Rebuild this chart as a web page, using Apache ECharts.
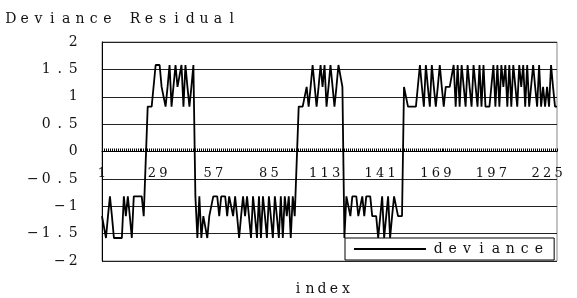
<!DOCTYPE html>
<html>
<head>
<meta charset="utf-8">
<script src="https://cdn.jsdelivr.net/npm/echarts@6/dist/echarts.min.js"></script>
<style>
  html, body { margin: 0; padding: 0; background: #fff; }
  #chart { width: 577px; height: 298px; }
</style>
</head>
<body>
<div id="chart"></div>
<script>
// deviance residuals
const seg1 = [-1.18, -1.18, -1.58, -1.18, -0.82, -1.18, -1.58, -1.58, -1.58, -1.58, -1.58, -0.82,
  -1.18, -0.82, -1.18, -1.58, -0.82, -0.82, -0.82, -0.82, -0.82, -1.18, -1.18]
const seg2 = [0.82, 0.82, 0.82, 0.82, 1.58, 1.58, 1.58, 1.18, 1.18, 0.82, 1.18, 1.58,
  0.82, 0.82, 1.58, 1.18, 1.18, 1.58, 0.82, 1.58, 1.18, 0.82, 1.18, 1.58]
const seg3 = [-0.82, -1.58, -0.82, -1.58, -1.18, -1.18, -1.58, -1.18, -1.18, -0.82, -0.82, -0.82,
  -1.18, -0.82, -0.82, -0.82, -1.18, -0.82, -0.82, -1.18, -0.82, -1.18, -1.58, -1.18,
  -0.82, -1.18, -0.82, -0.82, -1.58, -0.82, -1.18, -1.58, -0.82, -1.58, -0.82, -1.18,
  -1.58, -0.82, -0.82, -1.58, -0.82, -1.18, -1.58, -0.82, -1.58, -0.82, -1.18, -0.82,
  -1.58, -0.82, -1.18, -1.18]
const seg4 = [0.82, 0.82, 0.82, 0.82, 1.18, 0.82, 1.18, 1.58, 1.58, 0.82, 1.18, 1.58,
  1.18, 1.58, 0.82, 1.18, 1.58, 1.58, 0.82, 1.18, 1.58, 1.58, 1.18]
const seg5 = [-1.58, -0.82, -0.82, -1.18, -0.82, -0.82, -0.82, -1.18, -1.18, -0.82, -1.18, -0.82,
  -0.82, -0.82, -1.18, -1.18, -1.18, -1.58, -1.58, -0.82, -1.58, -1.58, -0.82, -1.58,
  -1.18, -0.82, -0.82, -1.18, -1.18, -1.18]
const seg6 = [1.18, 1.18, 0.82, 0.82, 0.82, 0.82, 0.82, 0.82, 1.58, 1.18, 0.82, 1.58,
  1.18, 0.82, 1.58, 1.18, 0.82, 1.18, 1.58, 1.18, 0.82, 1.18, 1.18, 1.18,
  1.18, 1.58, 0.82, 1.58, 0.82, 1.58, 1.58, 0.82, 1.58, 1.18, 0.82, 1.58]
const seg7 = [1.58, 0.82, 1.58, 0.82, 1.58, 0.82, 0.82, 0.82, 0.82, 1.58, 0.82, 1.58,
  0.82, 1.58, 1.18, 1.58, 0.82, 1.58, 0.82, 1.58, 1.58, 0.82, 1.58, 1.18,
  1.58, 0.82, 1.58, 0.82, 0.82, 1.58, 1.18, 0.82, 1.58, 0.82, 1.18, 0.82,
  1.18, 0.82, 1.58, 1.18, 0.82, 0.82]

const deviance = [].concat(seg1, seg2, seg3, seg4, seg5, seg6, seg7)
const indexes = deviance.map((v, i) => String(i + 1))

const yTicks = { min: -2, max: 2, step: 0.5 }
const labelEvery = 28

const FONT = '"DejaVu Serif", "Liberation Serif", serif'
const GRID = { left: 102, right: 20, top: 42, bottom: 37, height: 298 - 42 - 37 }

// spread characters into fixed-width slots (the original uses wide spacing)
function spaced(str) {
  return str.split('').map(ch => '{c|' + ch + '}').join('')
}
function slot(width, size) {
  return {
    c: { width: width, align: 'center', fontSize: size, fontFamily: FONT, fontWeight: 'normal', color: '#111' }
  }
}

const chart = echarts.init(document.getElementById('chart'))

const option = {
  animation: false,
  backgroundColor: '#fff',
  title: [
    {
      text: spaced('Deviance Residual'),
      left: 4,
      top: 12,
      padding: 0,
      textStyle: { fontWeight: 'normal', rich: slot(13.8, 14) }
    },
    {
      text: spaced('index'),
      left: 292,
      top: 282,
      padding: 0,
      textStyle: { fontWeight: 'normal', rich: slot(12, 14) }
    }
  ],
  legend: {
    left: 345,
    top: 238,
    padding: [4, 11, 4, 9],
    borderColor: '#000',
    borderWidth: 1,
    borderRadius: 0,
    icon: 'rect',
    itemWidth: 72,
    itemHeight: 2,
    itemStyle: { color: '#000' },
    formatter(name) {
      return spaced(name)
    },
    textStyle: { rich: slot(14.4, 14) },
    data: ['deviance']
  },
  grid: {
    left: GRID.left,
    right: GRID.right,
    top: GRID.top,
    bottom: GRID.bottom,
    show: true,
    borderColor: '#888',
    borderWidth: 1
  },
  xAxis: {
    type: 'category',
    data: indexes,
    boundaryGap: false,
    // category axis sits on the zero line, labels just under it
    offset: -GRID.height / 2,
    axisLine: { onZero: false, lineStyle: { color: '#000', width: 1 } },
    axisTick: { show: true, interval: 0, inside: true, length: 3, lineStyle: { color: '#000' } },
    axisLabel: {
      interval: labelEvery - 1,
      margin: 16,
      formatter(v) {
        return spaced(v)
      },
      rich: slot(11.5, 13)
    },
    splitLine: { show: false }
  },
  yAxis: {
    type: 'value',
    min: yTicks.min,
    max: yTicks.max,
    interval: yTicks.step,
    axisLine: { show: true, onZero: false, lineStyle: { color: '#000', width: 1 } },
    axisTick: { show: false },
    axisLabel: {
      margin: 22,
      formatter(v) {
        return spaced(String(v).replace('-', '\u2212'))
      },
      rich: slot(13.5, 14)
    },
    splitLine: { show: true, lineStyle: { color: '#222', width: 1 } }
  },
  series: [
    {
      name: 'deviance',
      type: 'line',
      data: deviance,
      symbol: 'none',
      lineStyle: { color: '#000', width: 1.8 },
      itemStyle: { color: '#000' }
    }
  ]
}

chart.setOption(option)
</script>
</body>
</html>
